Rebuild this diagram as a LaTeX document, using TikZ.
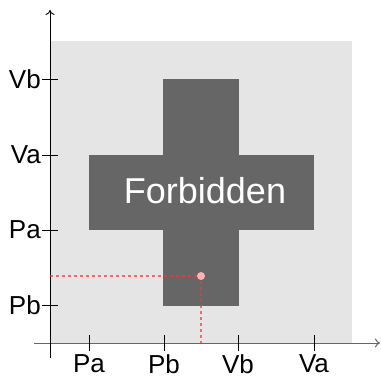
\documentclass[tikz,border=0pt]{standalone}
\usepackage{fontspec}
\setmainfont{Liberation Sans}
\usetikzlibrary{arrows.meta}
\begin{document}
\begin{tikzpicture}[x=1pt,y=-1pt,
  lbl/.style={font=\fontsize{26}{28}\selectfont, inner sep=0pt},
  tick/.style={draw=black, line width=0.8pt},
  guide/.style={draw=red!80, opacity=0.7, dash pattern=on 3pt off 3pt, line width=1.2pt}]
\useasboundingbox (0,0) rectangle (381,376);
% background region
\fill[gray!20] (50,41) rectangle (352,343);
% forbidden cross
\fill[black!60] (163,79) rectangle (239,306);
\fill[black!60] (89,155) rectangle (314,230);
\node[text=white, font=\fontsize{36}{40}\selectfont, inner sep=0pt, anchor=base] (fb) at (205,203) {Forbidden};
% axes
\coordinate (xs) at (34,343);
\coordinate (xe) at (380,343);
\coordinate (ys) at (50,358);
\coordinate (ye) at (50,10);
\draw[black!60, line width=1pt, -{To[length=5pt,width=9pt]}] (xs) -- (xe);
\draw[black, line width=0.9pt, -{To[length=5pt,width=9pt]}] (ys) -- (ye);
% x ticks
\foreach \x/\t in {89/Pa,164/Pb,238/Vb,314/Va}{
  \draw[tick] (\x,335) -- (\x,351);
  \node[lbl, anchor=north] (x\t) at (\x,354) {\t};
}
% y ticks
\foreach \y/\t in {79/Vb,155/Va,230/Pa,305/Pb}{
  \draw[tick] (42,\y) -- (58,\y);
  \node[lbl, anchor=east] (y\t) at (41,\y) {\t};
}
% guides
\coordinate (p) at (201,276);
\coordinate (gl) at (50,276);
\coordinate (gb) at (201,343);
\draw[guide] (gl) -- (p) -- (gb);
\fill[red!30] (p) circle (4);
\end{tikzpicture}
\end{document}
